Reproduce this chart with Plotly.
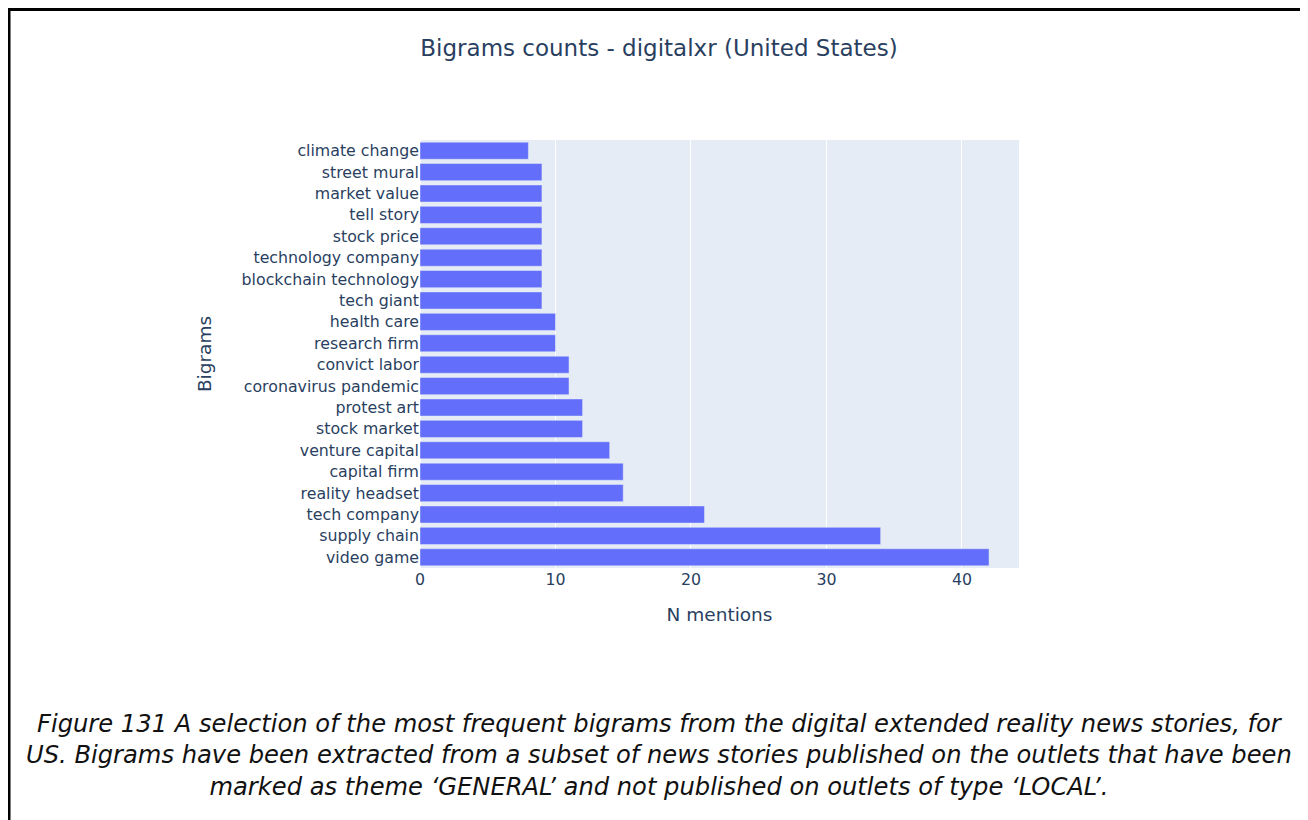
import plotly.graph_objects as go

# bigram counts, ordered from most to least frequent
bigrams = [
    "video game", "supply chain", "tech company", "reality headset", "capital firm",
    "venture capital", "stock market", "protest art", "coronavirus pandemic", "convict labor",
    "research firm", "health care", "tech giant", "blockchain technology", "technology company",
    "stock price", "tell story", "market value", "street mural", "climate change",
]
mentions = [42, 34, 21, 15, 15, 14, 12, 12, 11, 11, 10, 10, 9, 9, 9, 9, 9, 9, 9, 8]

title_text = "Bigrams counts - digitalxr (United States)"
caption = ("Figure 131 A selection of the most frequent bigrams from the digital extended reality news stories, for<br>"
           "US. Bigrams have been extracted from a subset of news stories published on the outlets that have been<br>"
           "marked as theme \u2018GENERAL\u2019 and not published on outlets of type \u2018LOCAL\u2019.")

# the page has an 8px body margin, so the figure is a bit smaller than the window
W, H = 1300, 812
L, R, T, B = 412, 289, 132, 252
pw, ph = W - L - R, H - T - B


def px2x(p):
    return (p - L) / pw


def px2y(p):
    return (H - B - p) / ph


fig = go.Figure(go.Bar(x=mentions, y=bigrams, orientation="h", marker_color="#636efa",
                       marker_line=dict(color="#E5ECF6", width=0.5)))

fig.update_layout(
    template="plotly",
    width=W, height=H,
    margin=dict(l=L, r=R, t=T, b=B),
    paper_bgcolor="white",
    font=dict(family="DejaVu Sans, Verdana, sans-serif", size=15.8, color="#2a3f5f"),
    title=dict(text=title_text, x=651 / W, xanchor="center", y=1 - 40 / H, yanchor="middle",
               font=dict(size=23)),
    bargap=0.2,
    showlegend=False,
)
fig.update_xaxes(title_text="N mentions", title_font_size=18.5, title_standoff=20)
fig.update_yaxes(title_text="Bigrams", title_font_size=18.5, title_standoff=25, showgrid=False)

# caption under the chart
fig.add_annotation(text=caption, xref="paper", yref="paper", x=px2x(651), y=px2y(747),
                   xanchor="center", yanchor="middle", showarrow=False, align="center",
                   font=dict(family="DejaVu Sans, sans-serif", size=24.2, color="#111111", style="italic"))

# frame around the figure
fig.add_shape(type="rect", xref="paper", yref="paper",
              x0=px2x(1), x1=px2x(1299.3), y0=px2y(830), y1=px2y(1.5),
              line=dict(color="black", width=3), layer="above")

fig.write_html("out.html")
